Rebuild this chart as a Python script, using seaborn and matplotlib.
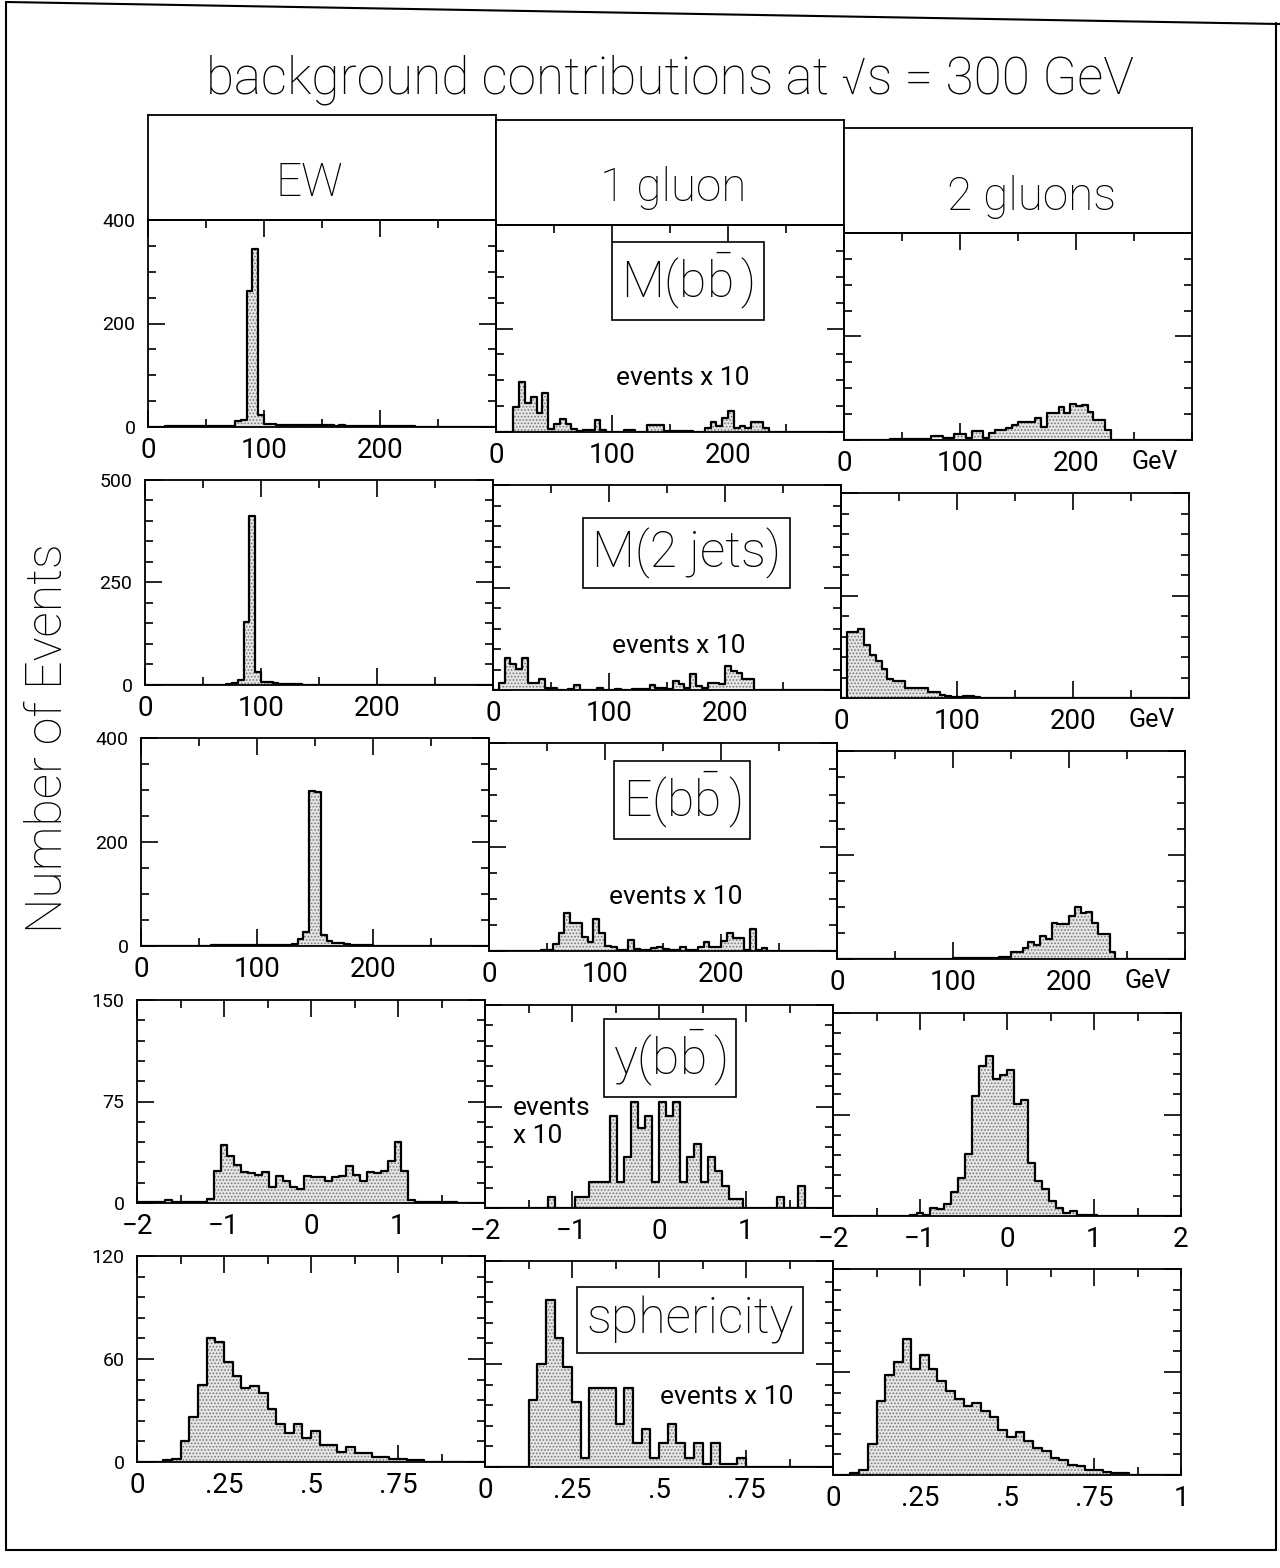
import numpy as np
import pandas as pd
import matplotlib
matplotlib.use("Agg")
import matplotlib.pyplot as plt
import seaborn as sns
from matplotlib.ticker import MultipleLocator, FixedLocator, FixedFormatter, NullFormatter
from matplotlib.lines import Line2D

# ---------------- data ----------------
columns = ["EW", "1 gluon", "2 gluons"]
observables = ["M(b$\\bar{\\mathrm{b}}\\,$)", "M(2 jets)", "E(b$\\bar{\\mathrm{b}}\\,$)",
               "y(b$\\bar{\\mathrm{b}}\\,$)", "sphericity"]

# invariant mass of b bbar, 5 GeV bins from 0 to 300
mbb_ew = [0, 0, 0, 1, 1, 1, 1, 1, 1, 2, 1, 1, 1, 1, 1, 12, 13, 262, 344, 23,
          6, 5, 4, 4, 3, 4, 4, 3, 3, 4, 3, 3, 2, 3, 2, 2, 1, 1, 1, 1,
          1, 1, 1, 1, 1, 1]
mbb_1g = [0, 0, 0, 48, 96, 57, 67, 37, 76, 6, 16, 25, 16, 6, 2, 4, 4, 23, 4, 0,
          0, 0, 3, 3, 0, 0, 14, 14, 14, 1, 1, 1, 1, 1, 0, 0, 8, 19, 12, 27,
          40, 8, 11, 8, 19, 19, 8]
mbb_2g = [0, 0, 0, 0, 0, 0, 0, 0, 1, 1, 1, 1, 1, 1, 1, 8, 8, 3, 3, 11,
          11, 3, 17, 17, 3, 13, 19, 19, 24, 29, 34, 34, 35, 42, 26, 53, 53, 63, 53, 70,
          66, 68, 55, 39, 39, 19]
# invariant mass of the 2 jets
m2j_ew = [0, 0, 0, 0, 1, 1, 1, 1, 1, 1, 1, 1, 1, 1, 3, 5, 12, 153, 411, 32,
          8, 7, 5, 2, 2, 2, 3, 1, 1, 1, 1, 1, 1, 1, 1, 1, 1, 1, 1, 1]
m2j_1g = [0, 16, 77, 63, 51, 77, 16, 16, 26, 6, 6, 0, 0, 3, 11, 0, 0, 0, 6, 0,
          0, 3, 0, 0, 2, 2, 2, 11, 6, 6, 2, 22, 14, 6, 40, 10, 6, 18, 16, 14,
          59, 47, 42, 26, 26]
m2j_2g = [0, 162, 162, 168, 130, 106, 90, 70, 46, 42, 42, 25, 25, 24, 24, 14, 15, 8, 4, 2,
          3, 5, 4, 3, 1, 1, 1, 1]
# energy of b bbar
ebb_ew = [0, 0, 0, 0, 0, 0, 0, 0, 0, 0, 0, 0, 1, 1, 1, 1, 1, 1, 1, 1,
          1, 1, 1, 1, 1, 2, 4, 13, 26, 299, 296, 22, 10, 5, 6, 3, 2, 2, 1, 1]
ebb_1g = [0, 0, 0, 0, 0, 0, 0, 0, 0, 1, 1, 14, 35, 74, 53, 53, 27, 18, 62, 34,
          10, 7, 2, 2, 21, 4, 1, 1, 6, 8, 3, 2, 2, 8, 1, 1, 8, 18, 7, 7,
          20, 35, 25, 25, 1, 43, 2, 5]
ebb_2g = [0, 0, 0, 0, 0, 0, 0, 0, 0, 0, 0, 0, 0, 0, 0, 0, 0, 0, 0, 0,
          1, 1, 1, 1, 1, 2, 2, 2, 4, 4, 13, 13, 22, 32, 27, 45, 38, 69, 67, 67,
          82, 100, 88, 90, 69, 48, 48, 13]
# rapidity of b bbar, 0.08 bins from -2 to 2
ybb_ew = [1, 1, 1, 1, 2, 1, 1, 1, 1, 1, 3, 24, 43, 35, 28, 23, 22, 21, 23, 12,
          20, 16, 12, 10, 20, 19, 19, 16, 19, 20, 27, 21, 16, 23, 22, 24, 31, 45, 24, 2,
          1, 1, 1, 1, 1, 1]
ybb_1g = [0, 0, 0, 0, 0, 0, 0, 0, 0, 8, 0, 0, 0, 8, 8, 19, 19, 19, 68, 19,
          38, 78, 59, 68, 19, 78, 68, 78, 19, 38, 47, 19, 38, 27, 16, 7, 7, 0, 0, 0,
          0, 0, 8, 0, 0, 16]
ybb_2g = [0, 0, 0, 0, 0, 0, 0, 0, 0, 0, 0, 1, 2, 1, 6, 5, 9, 18, 28, 46,
          89, 111, 118, 101, 104, 108, 83, 86, 39, 26, 20, 11, 6, 2, 4, 1, 1, 1]
# sphericity, 0.025 bins from 0 to 1
sph_ew = [0, 0, 0, 1, 2, 12, 26, 45, 72, 70, 58, 50, 43, 44, 40, 31, 22, 17, 22, 14,
          18, 10, 10, 6, 9, 5, 5, 3, 3, 2, 2, 1, 1]
sph_1g = [0, 0, 0, 0, 0, 39, 60, 97, 75, 58, 38, 5, 46, 46, 46, 25, 46, 14, 22, 5,
          14, 25, 14, 5, 14, 2, 14, 2, 2, 5]
sph_2g = [0, 0, 1, 3, 18, 43, 58, 66, 79, 62, 70, 62, 55, 49, 44, 40, 42, 37, 34, 26,
          22, 25, 20, 16, 14, 10, 9, 6, 5, 3, 3, 2, 1, 1]

panel_data = [[mbb_ew, mbb_1g, mbb_2g],
              [m2j_ew, m2j_1g, m2j_2g],
              [ebb_ew, ebb_1g, ebb_2g],
              [ybb_ew, ybb_1g, ybb_2g],
              [sph_ew, sph_1g, sph_2g]]

# binning per row: (low, bin width, number of bins)
row_bins = [(0, 5, 60), (0, 5, 60), (0, 5, 60), (-2, 0.08, 50), (0, 0.025, 40)]
row_xlim = [(0, 300), (0, 300), (0, 300), (-2, 2), (0, 1)]
row_ymax = [400, 500, 400, 150, 120]
row_ymajor = [200, 250, 200, 75, 60]
row_yminor = [50, 50, 50, 15, 12]
row_xmajor = [[0, 100, 200], [0, 100, 200], [0, 100, 200], [-2, -1, 0, 1], [0, 0.25, 0.5, 0.75]]
row_xlabels = [["0", "100", "200"], ["0", "100", "200"], ["0", "100", "200"],
               ["\u22122", "\u22121", "0", "1"], ["0", ".25", ".5", ".75"]]
row_xminor = [50, 50, 50, 0.5, 0.125]
row_last_label = ["GeV", "GeV", "GeV", "2", "1"]
events_note = ["events x 10", "events x 10", "events x 10", "events\nx 10", "events x 10"]

# ---------------- style ----------------
sns.set_style("white")
plt.rcParams['font.family'] = ['Roboto', 'DejaVu Sans']
plt.rcParams['font.weight'] = 'light'
plt.rcParams['mathtext.fontset'] = 'custom'
plt.rcParams['mathtext.rm'] = 'Roboto:light'
plt.rcParams['mathtext.it'] = 'Roboto:light'
plt.rcParams['text.color'] = 'black'
plt.rcParams['xtick.color'] = 'black'
plt.rcParams['ytick.color'] = 'black'
plt.rcParams['hatch.color'] = '#7a7a7a'
plt.rcParams['hatch.linewidth'] = 0.8

W, H = 1280, 1568
fig = plt.figure(figsize=(W / 100, H / 100), dpi=100)
fig.patch.set_facecolor('white')


def px_axes(left, top, width, height):
    return fig.add_axes([left / W, 1 - (top + height) / H, width / W, height / H])


def ftext(x, y, s, **kw):
    return fig.text(x / W, 1 - y / H, s, **kw)


row_left = [148, 145, 141, 137, 137]
row_top = [220, 480, 738, 1000, 1256]
row_bottom = [427, 685, 946, 1203, 1462]
col_w = 348
col_dy = [0, 5, 13]
LW = 1.3

# header boxes
header_pos = [(309, 183), (673, 188), (1032, 197)]
for c, name in enumerate(columns):
    ax = px_axes(148 + c * col_w, 115 + col_dy[c], col_w, 105)
    ax.set_xticks([]); ax.set_yticks([])
    for s in ax.spines.values():
        s.set_linewidth(LW)
        s.set_color('black')
    ftext(*header_pos[c], name, ha='center', va='center', fontsize=33)


def draw_hist(ax, counts, lo, width, nbins):
    counts = list(counts) + [0] * (nbins - len(counts))
    centers = [lo + width * (i + 0.5) for i in range(nbins)]
    df = pd.DataFrame({"x": centers, "w": counts})
    rng = (lo, lo + width * nbins)
    sns.histplot(data=df, x="x", weights="w", binwidth=width, binrange=rng, element="step",
                 fill=True, color="#e6e6e6", alpha=1, linewidth=0, ax=ax)
    poly = ax.collections[-1]
    poly.set_hatch('.....')
    poly.set_edgecolor('#7a7a7a')
    poly.set_linewidth(0)
    sns.histplot(data=df, x="x", weights="w", binwidth=width, binrange=rng, element="step",
                 fill=False, color="black", linewidth=1.6, ax=ax)


for r in range(5):
    height = row_bottom[r] - row_top[r]
    lo, wbin, nb = row_bins[r]
    for c in range(3):
        ax = px_axes(row_left[r] + c * col_w, row_top[r] + col_dy[c], col_w, height)
        draw_hist(ax, panel_data[r][c], lo, wbin, nb)
        ax.set_xlim(*row_xlim[r])
        ax.set_ylim(0, row_ymax[r])
        ax.set_xlabel(""); ax.set_ylabel("")
        for s in ax.spines.values():
            s.set_visible(True)
            s.set_linewidth(LW)
            s.set_color('black')
        ax.yaxis.set_major_locator(MultipleLocator(row_ymajor[r]))
        ax.yaxis.set_minor_locator(MultipleLocator(row_yminor[r]))
        ax.xaxis.set_major_locator(FixedLocator(row_xmajor[r]))
        ax.xaxis.set_major_formatter(FixedFormatter(row_xlabels[r]))
        ax.xaxis.set_minor_locator(MultipleLocator(row_xminor[r]))
        ax.tick_params(which='both', direction='in', top=True, right=True, bottom=True, left=True,
                       color='black', width=1.2)
        ax.tick_params(which='major', length=12)
        ax.tick_params(which='minor', length=6)
        ax.tick_params(axis='x', which='major', labelsize=20, pad=7)
        ax.tick_params(axis='y', which='major', labelsize=14, pad=9)
        for lab in ax.get_xticklabels() + ax.get_yticklabels():
            lab.set_fontweight('normal')
        if c > 0:
            ax.yaxis.set_major_formatter(NullFormatter())
        if c == 2:
            xl = row_xlim[r][1] if r >= 3 else 268
            ax.annotate(row_last_label[r], xy=(xl, 0), xycoords=('data', 'axes fraction'),
                        xytext=(0, -7), textcoords='offset points', ha='center', va='top',
                        fontsize=20 if r >= 3 else 18, fontweight='normal')
        ax.set_facecolor('none')

# boxed observable labels and "events x 10" notes (pixel positions of the reference)
label_pos = [(688, 281), (686, 553), (682, 800), (670, 1058), (690, 1320)]
note_pos = [(683, 378), (679, 646), (676, 897), (513, 1122), (727, 1397)]
for r in range(5):
    ftext(*label_pos[r], observables[r], ha='center', va='center', fontsize=36,
          bbox=dict(boxstyle='square,pad=0.18', fc='white', ec='black', lw=1.2))
    ftext(*note_pos[r], events_note[r], ha='center' if r != 3 else 'left',
          va='center', fontsize=19, linespacing=1.25, fontweight='normal')

ftext(670, 80, "background contributions at \u221as = 300 GeV", ha='center', va='center',
      fontsize=37)
ftext(48, 738, "Number of Events", rotation=90, ha='center', va='center', fontsize=36)

# scanned page frame (slightly tilted top edge, as in the reference)
frame = [((6, 2), (1280, 24)), ((6, 2), (6, 1550)), ((6, 1550), (1276, 1550)),
         ((1276, 23), (1276, 1550))]
for (x0, y0), (x1, y1) in frame:
    fig.add_artist(Line2D([x0 / W, x1 / W], [1 - y0 / H, 1 - y1 / H], transform=fig.transFigure,
                          color='black', lw=1.5))

fig.savefig("out.png", dpi=100, facecolor='white')
